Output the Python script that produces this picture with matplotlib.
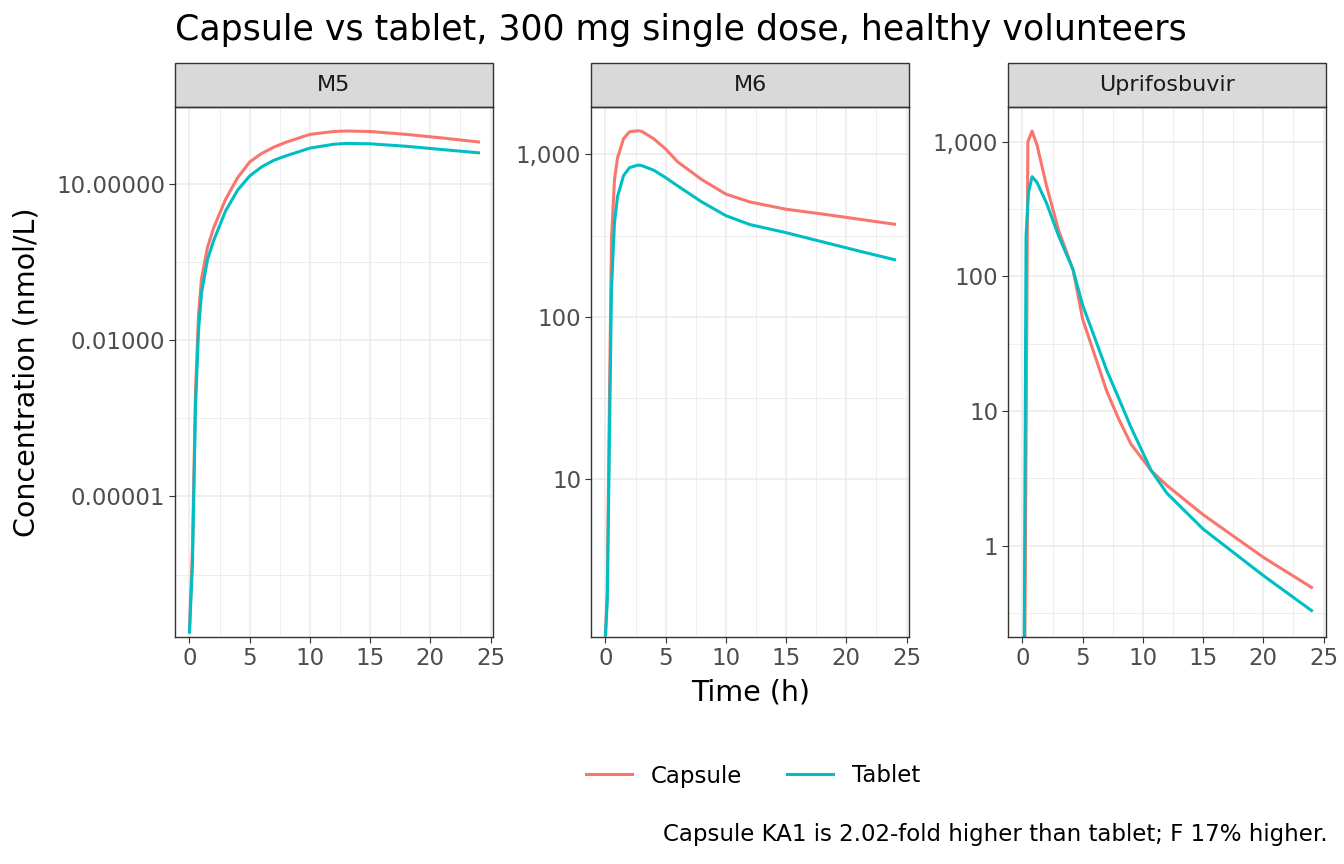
import numpy as np
import matplotlib.pyplot as plt
from matplotlib.patches import Rectangle
from matplotlib.ticker import FixedLocator, FixedFormatter, NullFormatter

CAPSULE_COL = '#F8766D'
TABLET_COL = '#00BFC4'

# M5
m5_time = [0, 0.25, 0.5, 0.75, 1, 1.5, 2, 3, 4, 5, 6, 7, 8, 10, 12, 13, 15, 18, 21, 24]
m5_capsule = [2.5e-8, 1e-6, 1e-3, 0.03, 0.15, 0.6, 1.4, 5, 13, 26, 38, 50, 62, 88, 100, 102, 100, 88, 75, 63]
m5_tablet = [2.5e-8, 5e-7, 5e-4, 0.015, 0.08, 0.35, 0.8, 3, 7.5, 14, 21, 28, 34, 48, 57, 59, 58, 52, 45, 39]

# M6
m6_time = [0, 0.15, 0.3, 0.5, 0.75, 1, 1.5, 2, 2.7, 3, 4, 5, 6, 8, 10, 12, 15, 18, 21, 24]
m6_capsule = [1.1, 2, 20, 300, 700, 950, 1250, 1380, 1400, 1390, 1250, 1080, 900, 700, 570, 510, 460, 430, 400, 372]
m6_tablet = [1.1, 1.8, 12, 150, 380, 550, 740, 830, 860, 855, 800, 720, 640, 510, 420, 370, 330, 290, 255, 225]

# Uprifosbuvir
up_time_c = [0, 0.2, 0.35, 0.45, 0.6, 0.8, 1.2, 2, 3, 4.2, 5, 6, 7, 8, 9, 10.7, 12, 15, 20, 24]
up_capsule = [0.2, 0.2, 30, 1000, 1080, 1200, 950, 470, 220, 112, 48, 26, 14, 8.7, 5.7, 3.6, 2.8, 1.7, 0.82, 0.49]
up_time_t = [0, 0.15, 0.3, 0.5, 0.8, 1.2, 2, 3, 4.2, 5, 6, 7, 8, 9, 10.7, 12, 15, 20, 24]
up_tablet = [0.2, 0.2, 200, 420, 550, 500, 350, 200, 112, 61, 35, 20, 12.4, 7.6, 3.6, 2.45, 1.33, 0.6, 0.33]

panels = [
    ('M5', m5_time, m5_capsule, m5_time, m5_tablet, (2e-8, 295),
     [10, 0.01, 1e-5], ['10.00000', '0.01000', '0.00001'], [10**2.5, 10**-0.5, 10**-3.5, 10**-6.5]),
    ('M6', m6_time, m6_capsule, m6_time, m6_tablet, (1.07, 1960),
     [1000, 100, 10], ['1,000', '100', '10'], [10**1.5, 10**2.5]),
    ('Uprifosbuvir', up_time_c, up_capsule, up_time_t, up_tablet, (0.21, 1810),
     [1000, 100, 10, 1], ['1,000', '100', '10', '1'], [10**-0.5, 10**0.5, 10**1.5, 10**2.5]),
]

W, H = 1344, 864
fig = plt.figure(figsize=(13.44, 8.64), dpi=100)
lefts = [175, 591, 1008]
pw = 318
top, bottom = 107, 637

for (name, tc, yc, tt, yt, ylim, ticks, labels, minors), left in zip(panels, lefts):
    ax = fig.add_axes([left / W, 1 - bottom / H, pw / W, (bottom - top) / H])
    ax.set_yscale('log')
    ax.set_xlim(-1.2, 25.2)
    ax.set_ylim(*ylim)
    ax.yaxis.set_major_locator(FixedLocator(ticks))
    ax.yaxis.set_major_formatter(FixedFormatter(labels))
    ax.yaxis.set_minor_locator(FixedLocator(minors))
    ax.yaxis.set_minor_formatter(NullFormatter())
    ax.set_xticks([0, 5, 10, 15, 20, 25])
    ax.set_xticks([2.5, 7.5, 12.5, 17.5, 22.5], minor=True)
    ax.grid(True, which='major', color='#EBEBEB', lw=1.1)
    ax.grid(True, which='minor', color='#EBEBEB', lw=0.6)
    ax.set_axisbelow(True)
    ax.tick_params(which='major', length=4, color='#333333', labelsize=16.5, labelcolor='#4D4D4D', pad=3)
    ax.tick_params(which='minor', length=0)
    for s in ax.spines.values():
        s.set_color('#333333')
        s.set_linewidth(1)
    ax.plot(tc, yc, color=CAPSULE_COL, lw=2.2, label='Capsule')
    ax.plot(tt, yt, color=TABLET_COL, lw=2.2, label='Tablet')
    strip_h = 44 / (bottom - top)
    ax.add_patch(Rectangle((0, 1), 1, strip_h, transform=ax.transAxes, facecolor='#D9D9D9',
                           edgecolor='#333333', lw=1, clip_on=False))
    ax.text(0.5, 1 + strip_h / 2, name, transform=ax.transAxes, ha='center', va='center',
            fontsize=16, color='#1A1A1A')
    if name == 'M5':
        handles, leg_labels = ax.get_legend_handles_labels()

fig.text(175 / W, 1 - 30 / H, 'Capsule vs tablet, 300 mg single dose, healthy volunteers',
         fontsize=25, ha='left', va='center')
fig.text(13 / W, 1 - 372 / H, 'Concentration (nmol/L)', rotation=90, fontsize=20.5,
         ha='left', va='center')
fig.text(751 / W, 1 - 692 / H, 'Time (h)', fontsize=20.5, ha='center', va='center')
fig.legend(handles, leg_labels, loc='center', bbox_to_anchor=(753 / W, 1 - 776 / H), ncol=2,
           frameon=False, fontsize=16.5, handlelength=2, columnspacing=2)
fig.text(1328 / W, 1 - 835 / H, 'Capsule KA1 is 2.02-fold higher than tablet; F 17% higher.',
         fontsize=16.5, ha='right', va='center')

fig.savefig('out.png', dpi=100)
